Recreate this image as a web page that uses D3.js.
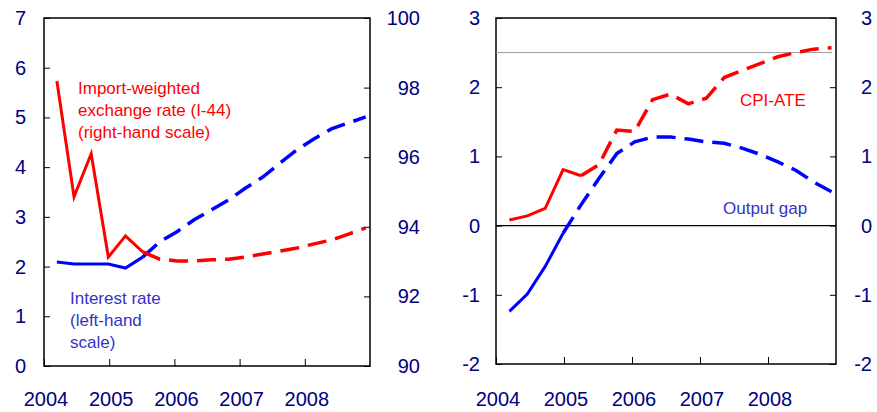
<!DOCTYPE html>
<head>
    <meta charset="utf-8">
    <script src="https://d3js.org/d3.v7.min.js"></script>
    <style>
        body { margin: 0; background: #fff; }
        text { font-family: Arial, "Liberation Sans", sans-serif; }
    </style>
</head>
<body>
    <div id="container"></div>
    <script>
        //------------------------DATA------------------------//
        var quarters = ["2004Q2","2004Q3","2004Q4","2005Q1","2005Q2","2005Q3","2005Q4","2006Q1","2006Q2","2006Q3","2006Q4",
                        "2007Q1","2007Q2","2007Q3","2007Q4","2008Q1","2008Q2","2008Q3","2008Q4"]
        var years = ["2004","2005","2006","2007","2008"]
        // position of each year tick on the quarter index axis
        var yearPos = [-0.75, 3.05, 6.85, 10.65, 14.45]

        var exchangeRate = [98.19, 94.86, 96.1, 93.13, 93.74, 93.28, 93.07, 93.02, 93.02, 93.05, 93.07, 93.13, 93.22, 93.3, 93.39, 93.51, 93.62, 93.79, 93.97]
        var interestRate = [2.09, 2.05, 2.05, 2.05, 1.97, 2.19, 2.5, 2.7, 2.94, 3.14, 3.34, 3.58, 3.8, 4.08, 4.35, 4.57, 4.77, 4.89, 5.01]
        var cpiAte = [0.08, 0.14, 0.25, 0.81, 0.72, 0.88, 1.38, 1.36, 1.82, 1.9, 1.76, 1.84, 2.14, 2.24, 2.34, 2.44, 2.5, 2.55, 2.57]
        var outputGap = [-1.24, -0.99, -0.59, -0.11, 0.3, 0.68, 1.04, 1.21, 1.28, 1.28, 1.25, 1.21, 1.19, 1.12, 1.03, 0.92, 0.8, 0.63, 0.49]

        var leftTicksA = [0, 1, 2, 3, 4, 5, 6, 7]
        var rightTicksA = [90, 92, 94, 96, 98, 100]
        var ticksB = [-2, -1, 0, 1, 2, 3]

        var red = "#ff0000", blue = "#0000ff", navy = "#000080"
        var dash = "19,9"

        var svg = d3.select("#container").append("svg").attr("width", 877).attr("height", 412)

        function panel(box, yL, yR, lTicks, rTicks, lFmt, rFmt) {
            var x = d3.scaleLinear().domain([-0.75, 18.25]).range([box.x0, box.x1])
            var g = svg.append("g")
            g.append("g").attr("transform", "translate(" + box.x0 + ",0)")
                .call(d3.axisRight(yL).tickValues(lTicks).tickSize(6).tickFormat(""))
            g.append("g").attr("transform", "translate(" + box.x1 + ",0)")
                .call(d3.axisLeft(yR).tickValues(rTicks).tickSize(6).tickFormat(""))
            g.append("g").attr("transform", "translate(0," + box.y1 + ")")
                .call(d3.axisTop(x).tickValues(yearPos).tickSize(7).tickFormat(""))
            g.selectAll(".domain").remove()
            g.selectAll(".tick line").attr("stroke", "#000")
            g.append("rect").attr("x", box.x0).attr("y", box.y0)
                .attr("width", box.x1 - box.x0).attr("height", box.y1 - box.y0)
                .attr("fill", "none").attr("stroke", "#000").attr("stroke-width", 1.5)
            // tick labels
            g.selectAll(".ll").data(lTicks).enter().append("text")
                .attr("x", box.lx).attr("y", function (d) { return yL(d) + 7 })
                .attr("text-anchor", "end").attr("fill", navy).attr("font-size", 20).text(lFmt)
            g.selectAll(".rl").data(rTicks).enter().append("text")
                .attr("x", box.rx).attr("y", function (d) { return yR(d) + 7 })
                .attr("text-anchor", "end").attr("fill", navy).attr("font-size", 20).text(rFmt)
            g.selectAll(".xl").data(years).enter().append("text")
                .attr("x", function (d, i) { return x(yearPos[i]) + 2 })
                .attr("y", 406).attr("text-anchor", "middle")
                .attr("fill", navy).attr("font-size", 20).text(function (d) { return d })
            return x
        }

        function series(x, y, vals, color, split) {
            var line = d3.line().x(function (d) { return x(d.i) }).y(function (d) { return y(d.v) })
            var pts = vals.map(function (v, i) { return { i: i, v: v } })
            svg.append("path").datum(pts.slice(0, split + 1)).attr("d", line)
                .attr("fill", "none").attr("stroke", color).attr("stroke-width", 3)
            svg.append("path").datum(pts.slice(split)).attr("d", line)
                .attr("fill", "none").attr("stroke", color).attr("stroke-width", 3.5)
                .attr("stroke-dasharray", dash)
        }

        //------------------------LEFT PANEL------------------------//
        var boxA = { x0: 44, x1: 370, y0: 18, y1: 366, lx: 26, rx: 420 }
        var yA = d3.scaleLinear().domain([0, 7]).range([366, 18])
        var yA2 = d3.scaleLinear().domain([90, 100]).range([366, 18])
        var xA = panel(boxA, yA, yA2, leftTicksA, rightTicksA, function (d) { return d }, function (d) { return d })
        series(xA, yA, interestRate, blue, 5)
        series(xA, yA2, exchangeRate, red, 5)

        svg.append("text").attr("fill", red).attr("font-size", 17)
            .selectAll("tspan").data(["Import-weighted", "exchange rate (I-44)", "(right-hand scale)"]).enter()
            .append("tspan").attr("x", 78).attr("y", function (d, i) { return 94 + i * 22 }).text(function (d) { return d })
        svg.append("text").attr("fill", "#3333cc").attr("font-size", 17)
            .selectAll("tspan").data(["Interest rate", "(left-hand", "scale)"]).enter()
            .append("tspan").attr("x", 70).attr("y", function (d, i) { return 304 + i * 22 }).text(function (d) { return d })

        //------------------------RIGHT PANEL------------------------//
        var boxB = { x0: 496, x1: 836, y0: 18, y1: 364, lx: 480, rx: 872 }
        var yB = d3.scaleLinear().domain([-2, 3]).range([364, 18])
        var xB = panel(boxB, yB, yB, ticksB, ticksB, function (d) { return d }, function (d) { return d })
        svg.append("line").attr("x1", boxB.x0).attr("x2", 832).attr("y1", yB(2.5)).attr("y2", yB(2.5))
            .attr("stroke", "#999").attr("stroke-width", 1)
        svg.append("line").attr("x1", boxB.x0).attr("x2", boxB.x1).attr("y1", yB(0)).attr("y2", yB(0))
            .attr("stroke", "#000").attr("stroke-width", 1.2)
        series(xB, yB, outputGap, blue, 3)
        series(xB, yB, cpiAte, red, 4)

        svg.append("text").attr("x", 740).attr("y", 106).attr("fill", red).attr("font-size", 17).text("CPI-ATE")
        svg.append("text").attr("x", 723).attr("y", 214).attr("fill", "#3333cc").attr("font-size", 17).text("Output gap")
    </script>
</body>
